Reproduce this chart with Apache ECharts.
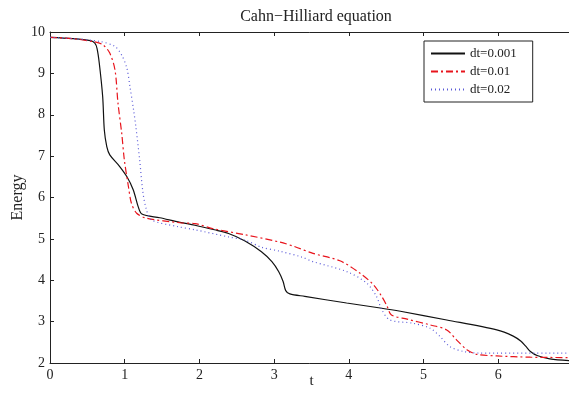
<!DOCTYPE html>
<html><head><meta charset="utf-8">
<script src="https://cdn.jsdelivr.net/npm/echarts@6/dist/echarts.min.js"></script>
<style>html,body{margin:0;padding:0;background:#fff}#c{width:569px;height:396px}</style>
</head><body><div id="c"></div>
<script>
var seriesNames = ['dt=0.001', 'dt=0.01', 'dt=0.02'];
var xTicks = [0, 1, 2, 3, 4, 5, 6];
var yTicks = [2, 3, 4, 5, 6, 7, 8, 9, 10];
var dt0001 = [[0,9.87],[0.3,9.84],[0.54,9.79],[0.6,9.73],[0.63,9.6],[0.66,9.24],[0.705,8.44],[0.727,7.63],[0.76,7.23],[0.80,7.03],[0.915,6.79],[1.03,6.5],[1.115,6.18],[1.18,5.78],[1.23,5.6],[1.47,5.51],[1.74,5.40],[1.94,5.33],[2.2,5.22],[2.39,5.13],[2.61,4.95],[2.83,4.69],[2.97,4.45],[3.06,4.21],[3.12,3.97],[3.155,3.75],[3.21,3.67],[3.41,3.61],[3.97,3.45],[4.42,3.33],[4.69,3.25],[5.31,3.04],[5.98,2.80],[6.20,2.65],[6.30,2.53],[6.37,2.40],[6.43,2.28],[6.52,2.18],[6.69,2.10],[7.0,2.05]];
var dt001 = [[0,9.87],[0.3,9.84],[0.6,9.76],[0.71,9.69],[0.80,9.49],[0.87,9.08],[0.91,8.28],[0.96,7.55],[0.995,6.91],[1.05,6.26],[1.09,5.86],[1.16,5.62],[1.29,5.5],[1.74,5.39],[1.94,5.37],[2.2,5.24],[2.61,5.10],[3.08,4.92],[3.28,4.81],[3.52,4.65],[3.88,4.47],[4.15,4.17],[4.33,3.89],[4.44,3.61],[4.51,3.38],[4.57,3.16],[4.78,3.06],[5.09,2.92],[5.31,2.80],[5.44,2.56],[5.58,2.32],[5.71,2.21],[5.98,2.17],[6.43,2.14],[7.0,2.13]];
var dt002 = [[0,9.87],[0.3,9.84],[0.67,9.77],[0.87,9.65],[0.96,9.44],[1.03,9.12],[1.07,8.68],[1.12,8.1],[1.15,7.7],[1.20,6.91],[1.24,6.18],[1.285,5.74],[1.36,5.46],[1.70,5.30],[1.94,5.22],[2.41,5.04],[2.61,4.97],[2.83,4.80],[3.08,4.70],[3.37,4.56],[3.52,4.45],[3.97,4.21],[4.24,3.93],[4.37,3.61],[4.44,3.29],[4.55,3.04],[4.86,2.96],[5.09,2.84],[5.22,2.64],[5.35,2.40],[5.53,2.28],[5.76,2.24],[7.0,2.24]];

var font = 'Liberation Serif';
var chart = echarts.init(document.getElementById('c'), null, {renderer: 'canvas'});
var axisCommon = {
  axisLine: {show: true, lineStyle: {color: '#222', width: 1}},
  axisTick: {show: true, inside: true, length: 4, lineStyle: {color: '#222'}},
  splitLine: {show: false}
};
function mkLine(name, data, color, type, width) {
  return {name: name, type: 'line', data: data, symbol: 'none', showSymbol: false, smooth: 0.3,
    lineStyle: {color: color, width: width, type: type}, itemStyle: {color: color}, animation: false, z: 3};
}
chart.setOption({
  animation: false,
  backgroundColor: '#fff',
  title: {text: 'Cahn\u2212Hilliard equation', left: 311, top: 4, textAlign: 'center',
    textStyle: {fontFamily: font, fontSize: 16, fontWeight: 'normal', color: '#222'}},
  grid: {left: 50, top: 32, width: 523, height: 331, containLabel: false, outerBoundsMode: 'none'},
  legend: {
    orient: 'vertical', left: 424, top: 41,
    data: seriesNames, itemWidth: 34, itemHeight: 10, itemGap: 5,
    itemStyle: {opacity: 0},
    padding: [6, 16, 6, 6], borderColor: '#222', borderWidth: 1, backgroundColor: '#fff',
    textStyle: {fontFamily: font, fontSize: 13, color: '#222'}
  },
  xAxis: [
    Object.assign({type: 'value', min: 0, max: 7, interval: 1, position: 'bottom',
      name: 't', nameLocation: 'middle', nameGap: 11, nameMoveOverlap: false,
      nameTextStyle: {fontFamily: font, fontSize: 15, color: '#222'},
      axisLabel: {fontFamily: font, fontSize: 14, color: '#222', margin: 5, showMaxLabel: false,
        formatter: function(v){ return xTicks.indexOf(v) >= 0 ? String(v) : ''; }}}, axisCommon),
    Object.assign({type: 'value', min: 0, max: 7, interval: 1, position: 'top',
      axisLabel: {show: false}}, axisCommon)
  ],
  yAxis: [
    Object.assign({type: 'value', min: 2, max: 10, interval: 1, position: 'left',
      name: 'Energy', nameLocation: 'middle', nameGap: 24, nameMoveOverlap: false,
      nameTextStyle: {fontFamily: font, fontSize: 16, color: '#222'},
      axisLabel: {fontFamily: font, fontSize: 14, color: '#222', margin: 5,
        formatter: function(v){ return yTicks.indexOf(v) >= 0 ? String(v) : ''; }}}, axisCommon)
  ],
  series: [
    mkLine(seriesNames[0], dt0001, '#111', 'solid', 1.2),
    mkLine(seriesNames[1], dt001, '#e8141c', [7, 3, 2, 3], 1.2),
    mkLine(seriesNames[2], dt002, '#5a5ad8', [1, 3], 1.2)
  ]
});
</script></body></html>
